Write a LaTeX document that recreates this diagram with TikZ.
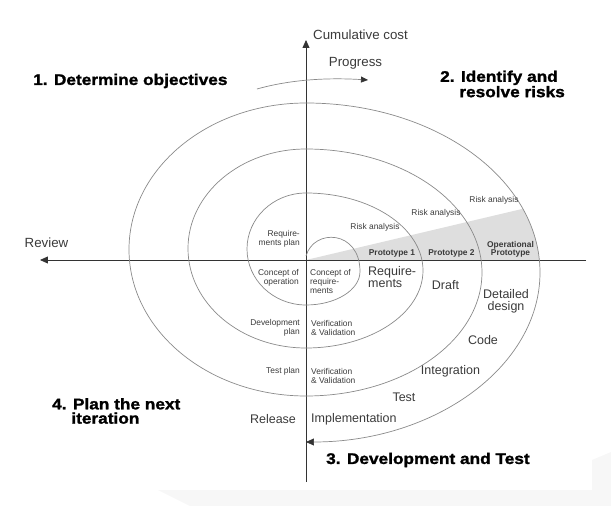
\documentclass[tikz,border=0pt]{standalone}
\usepackage{fontspec}
\setmainfont{Liberation Sans}
\newfontfamily\headfont{Liberation Sans}[BoldFeatures={FakeStretch=1.12,FakeBold=1.5}]
\usetikzlibrary{arrows.meta}
\definecolor{linegray}{HTML}{8A8A8A}
\definecolor{axisgray}{HTML}{333333}
\definecolor{textgray}{HTML}{3A3A3A}
\definecolor{wedgegray}{HTML}{DEDEDE}
\definecolor{shadowgray}{HTML}{F7F7F7}

\begin{document}
\begin{tikzpicture}[x=1pt,y=1pt,
    tip/.style={-{Triangle[length=8pt,width=7pt,color=axisgray]}},
    axis/.style={draw=axisgray, line width=0.8pt, tip},
    spiral/.style={draw=linegray, line width=0.7pt},
    small/.style={text=textgray, font=\fontsize{8.4}{9}\selectfont, inner sep=0pt},
    smallbold/.style={small, font=\fontsize{8.4}{8.2}\selectfont\bfseries},
    big/.style={text=textgray, font=\fontsize{12.5}{12}\selectfont, inner sep=0pt},
    axislabel/.style={text=textgray, font=\fontsize{13.3}{14}\selectfont, inner sep=0pt},
    stage/.style={text=black, font=\fontsize{15.4}{14.3}\headfont\bfseries, inner sep=0pt, align=left}]
  \useasboundingbox (-306,-246) rectangle (305,260);

  % faint shadow at the bottom
  \fill[shadowgray] (-148,-230) -- (286,-230) -- (286,-200) -- (305,-192)
    -- (305,-246) -- (-116,-246) -- cycle;

  % grey prototype wedge, cut off by the outer turn
  \begin{scope}
    \clip (0,-12.5) ellipse [x radius=234, y radius=169.5];
    \fill[wedgegray] (0,0) -- (260,61.4) -- (260,0) -- cycle;
  \end{scope}

  % axes
  \draw[axis] (280,0) -- (-266,0);
  \draw[axis] (0,-222) -- (0,220);

  % spiral (right halves and left halves of ellipses)
  \draw[spiral, tip] (0,4) .. controls (8,32) and (54,30) .. (54,-11.5)
    arc[start angle=0, end angle=-90, x radius=54, y radius=33.5]
    arc[start angle=-90, end angle=-270, x radius=59, y radius=56]
    arc[start angle=90, end angle=-90, x radius=117, y radius=77.5]
    arc[start angle=-90, end angle=-270, x radius=118, y radius=99.5]
    arc[start angle=90, end angle=-90, x radius=176, y radius=123.5]
    arc[start angle=-90, end angle=-270, x radius=177, y radius=146.5]
    arc[start angle=90, end angle=-90, x radius=234, y radius=169.5];

  % progress arrow
  \draw[spiral, -{Triangle[length=7pt,width=6pt,color=axisgray]}] (-49,171) .. controls (-10,182) and (30,182) .. (62,180);

  % axis labels
  \node[axislabel, anchor=west] (cost) at (7,225) {Cumulative cost};
  \node[axislabel] (progress) at (49.5,197) {Progress};
  \node[axislabel] (review) at (-259.5,17) {Review};

  % quadrant titles
  \node[stage, anchor=west] (objectives) at (-273,179) {1. Determine objectives};
  \node[stage, anchor=west] (risks) at (134,176) {2. Identify and\\\hphantom{2.}\ resolve risks};
  \node[stage, anchor=west] (devtest) at (20,-200) {3. Development and Test};
  \node[stage, anchor=west] (nextiter) at (-254,-151) {4. Plan the next\\\hphantom{4.}\ iteration};

  % risk analysis and prototypes
  \foreach \x/\y [count=\i] in {69/33, 130/47, 188/60} {
    \node[small] (risk\i) at (\x,\y) {Risk analysis};
  }
  \node[smallbold] (proto1) at (86,7) {Prototype 1};
  \node[smallbold] (proto2) at (145.5,7) {Prototype 2};
  \node[smallbold, align=center] (protoop) at (204.5,11) {Operational\\Prototype};

  % planning side (left of the vertical axis)
  \node[small, anchor=east, align=right] (reqplan) at (-6,21.5) {Require-\\ments plan};
  \node[small, anchor=east, align=right] (conop) at (-7,-17.5) {Concept of\\operation};
  \node[small, anchor=east, align=right] (devplan) at (-6,-67.5) {Development\\plan};
  \node[small, anchor=east] (testplan) at (-6,-111) {Test plan};
  \node[big] (release) at (-33,-159) {Release};

  % engineering side (right of the vertical axis)
  \node[small, anchor=west, align=left] (conreq) at (4,-22) {Concept of\\require-\\ments};
  \node[small, anchor=west, align=left] (vv1) at (5,-67.5) {Verification\\\& Validation};
  \node[small, anchor=west, align=left] (vv2) at (5,-115.5) {Verification\\\& Validation};
  \node[big, anchor=west, align=left] (req) at (62,-17) {Require-\\ments};
  \node[big] (draft) at (139.5,-25) {Draft};
  \node[big, align=center] (design) at (200,-41.5) {Detailed\\design};
  \node[big] (code) at (177,-80) {Code};
  \node[big] (integ) at (144.5,-111) {Integration};
  \node[big] (test) at (98,-137) {Test};
  \node[big, anchor=west] (impl) at (5,-159) {Implementation};
\end{tikzpicture}
\end{document}
